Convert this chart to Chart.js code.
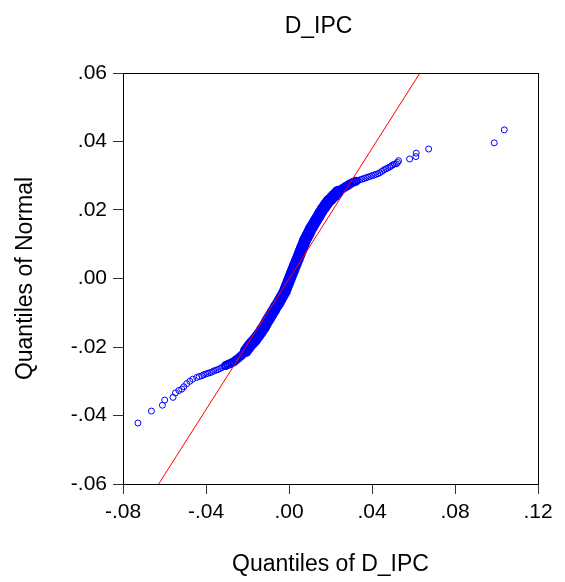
<!DOCTYPE html>
<html>
<head>
<meta charset="utf-8">
<script src="https://cdn.jsdelivr.net/npm/chart.js@4/dist/chart.umd.min.js"></script>
<style>
  html, body { margin: 0; padding: 0; background: #fff; }
  #wrap { width: 565px; height: 582px; }
</style>
</head>
<body>
<div id="wrap"><canvas id="qqChart" width="565" height="582"></canvas></div>
<script>
const dipcQuantiles = [
  -0.0728, -0.0663, -0.0610, -0.0599, -0.0559, -0.0547, -0.0531, -0.0517, -0.0507, -0.0493,
  -0.0478, -0.0464, -0.0445, -0.0433, -0.0420, -0.0411, -0.0401, -0.0392, -0.0382, -0.0372,
  -0.0363, -0.0353, -0.0343, -0.0334, -0.0324, -0.0314, -0.0305, -0.0295, -0.0285, -0.0276,
  -0.0266, -0.0256, -0.0247, -0.0237, -0.0228, -0.0218, -0.0208, -0.0201, -0.0194, -0.0187,
  -0.0179, -0.0172, -0.0165, -0.0158, -0.0150, -0.0143, -0.0136, -0.0129, -0.0121, -0.0114,
  -0.0107, -0.0100, -0.0093, -0.0085, -0.0078, -0.0071, -0.0064, -0.0056, -0.0049, -0.0042,
  -0.0035, -0.0027, -0.0020, -0.0015, -0.00105, -0.00057, -0.00009, 0.00040, 0.00088, 0.00136,
  0.00184, 0.00232, 0.00281, 0.00329, 0.00377, 0.00425, 0.00474, 0.00522, 0.00570, 0.00618,
  0.00667, 0.00715, 0.00763, 0.00811, 0.00860, 0.00908, 0.00956, 0.01004, 0.01052, 0.01125,
  0.01197, 0.01269, 0.01342, 0.01414, 0.01486, 0.01559, 0.01631, 0.01703, 0.01776, 0.01848,
  0.01920, 0.01993, 0.02065, 0.02137, 0.02210, 0.02282, 0.02355, 0.02427, 0.02499, 0.02572,
  0.02644, 0.02716, 0.02789, 0.02861, 0.02933, 0.03030, 0.03126, 0.03223, 0.03319, 0.03416,
  0.03512, 0.03609, 0.03705, 0.03801, 0.03898, 0.03994, 0.04091, 0.04187, 0.04284, 0.04380,
  0.04477, 0.04573, 0.04670, 0.04766, 0.04862, 0.04935, 0.05007, 0.05079, 0.05176, 0.05234,
  0.05282, 0.05813, 0.06116, 0.06131, 0.06729, 0.09893, 0.10375
];
const normalQuantiles = [
  -0.0422, -0.0387, -0.0370, -0.0355, -0.0347, -0.0334, -0.0327, -0.0323, -0.0316, -0.0307,
  -0.0300, -0.0294, -0.0289, -0.0286, -0.0284, -0.0281, -0.0279, -0.0277, -0.0275, -0.0273,
  -0.0270, -0.0268, -0.0266, -0.0263, -0.0260, -0.0257, -0.0254, -0.0251, -0.0249, -0.0246,
  -0.0243, -0.0238, -0.0234, -0.0229, -0.0224, -0.0218, -0.0212, -0.0206, -0.0200, -0.0194,
  -0.0189, -0.0184, -0.0180, -0.0174, -0.0168, -0.0162, -0.0156, -0.0149, -0.0142, -0.0135,
  -0.0127, -0.0120, -0.0113, -0.0105, -0.0098, -0.0091, -0.0083, -0.0076, -0.0069, -0.0061,
  -0.0054, -0.0045, -0.0037, -0.0029, -0.0022, -0.0015, -0.0007, 0.0000, 0.0007, 0.0015,
  0.0022, 0.0029, 0.0037, 0.0044, 0.0051, 0.0058, 0.0066, 0.0073, 0.0080, 0.0088,
  0.0095, 0.0102, 0.0110, 0.0115, 0.0121, 0.0127, 0.0133, 0.0139, 0.0145, 0.0152,
  0.0159, 0.0167, 0.0174, 0.0181, 0.0189, 0.0196, 0.0203, 0.0209, 0.0215, 0.0221,
  0.0227, 0.0231, 0.0235, 0.0240, 0.0244, 0.0249, 0.0253, 0.0256, 0.0259, 0.0262,
  0.0265, 0.0268, 0.0270, 0.0273, 0.0276, 0.0279, 0.0282, 0.0284, 0.0286, 0.0288,
  0.0290, 0.0292, 0.0294, 0.0296, 0.0298, 0.0300, 0.0302, 0.0304, 0.0306, 0.0309,
  0.0313, 0.0317, 0.0320, 0.0323, 0.0326, 0.0329, 0.0332, 0.0334, 0.0335, 0.0339,
  0.0344, 0.0349, 0.0356, 0.0366, 0.0378, 0.0396, 0.0434
];

// Reference line (end points on the plot frame)
const refLineX = [-0.0628, 0.0631];
const refLineY = [-0.06, 0.06];

// Axis ticks
const xTicks = [-0.08, -0.04, 0, 0.04, 0.08, 0.12];
const yTicks = [-0.06, -0.04, -0.02, 0, 0.02, 0.04, 0.06];

const FONT = "'Liberation Sans', Arial, sans-serif";
const BLUE = '#0000ff';

// .06 / -.02 style labels
function fmtTick(v) {
  return Number(v).toFixed(2).replace('0.', '.');
}

// the body of the distribution is so crowded that the circles merge into a solid band
function crowd(ctx) {
  const p = ctx.raw;
  if (!p) return 0;
  if (p.y > -0.0215 && p.y < 0.0255) return 2;
  if (p.y > -0.0255 && p.y < 0.0285) return 1;
  return 0;
}

const qqPoints = normalQuantiles.map((y, i) => ({x: dipcQuantiles[i], y: y}));
const refPoints = refLineX.map((x, i) => ({x: x, y: refLineY[i]}));

// box around the plot area + centered title
const framePlugin = {
  id: 'frame',
  afterDraw(chart) {
    const {ctx, chartArea: a} = chart;
    ctx.save();
    ctx.strokeStyle = '#000';
    ctx.lineWidth = 1;
    ctx.strokeRect(Math.round(a.left) + 0.5, Math.round(a.top) + 0.5,
      Math.round(a.right - a.left), Math.round(a.bottom - a.top));
    ctx.fillStyle = '#000';
    ctx.font = '23px ' + FONT;
    ctx.textAlign = 'center';
    ctx.textBaseline = 'middle';
    ctx.fillText('D_IPC', (a.left + a.right) / 2 - 12, 27);
    ctx.restore();
  }
};

function tickScale(min, max, list, titleText, isX) {
  return {
    type: 'linear',
    min: min,
    max: max,
    afterBuildTicks: s => { s.ticks = list.map(v => ({value: v})); },
    afterFit: s => {
      if (isX) s.height = 98; else s.width = 123;
    },
    ticks: {
      callback: fmtTick,
      color: '#000',
      font: {family: FONT, size: 21},
      padding: 6,
      autoSkip: false,
      maxRotation: 0
    },
    grid: {
      display: true,
      drawOnChartArea: false,
      drawTicks: true,
      tickLength: 10,
      color: '#333'
    },
    border: {display: true, color: '#000', width: 1},
    title: {
      display: true,
      text: titleText,
      color: '#000',
      font: {family: FONT, size: 23},
      padding: isX ? {top: 0, bottom: 4} : {top: 12, bottom: 0}
    }
  };
}

new Chart(document.getElementById('qqChart').getContext('2d'), {
  type: 'scatter',
  data: {
    datasets: [
      {
        label: 'Normal line',
        data: refPoints,
        showLine: true,
        borderColor: '#ff0000',
        borderWidth: 1,
        pointRadius: 0,
        fill: false
      },
      {
        label: 'D_IPC',
        data: qqPoints,
        borderColor: BLUE,
        backgroundColor: ctx => crowd(ctx) === 2 ? BLUE : 'rgba(0,0,0,0)',
        borderWidth: ctx => [1, 2, 2][crowd(ctx)],
        pointRadius: ctx => [3, 3.5, 5][crowd(ctx)],
        pointHoverRadius: 3
      }
    ]
  },
  options: {
    responsive: false,
    animation: false,
    layout: {padding: {top: 73, right: 27, bottom: 0, left: 0}},
    plugins: {
      legend: {display: false},
      tooltip: {enabled: false}
    },
    scales: {
      x: tickScale(-0.08, 0.12, xTicks, 'Quantiles of D_IPC', true),
      y: tickScale(-0.06, 0.06, yTicks, 'Quantiles of Normal', false)
    }
  },
  plugins: [framePlugin]
});
</script>
</body>
</html>
